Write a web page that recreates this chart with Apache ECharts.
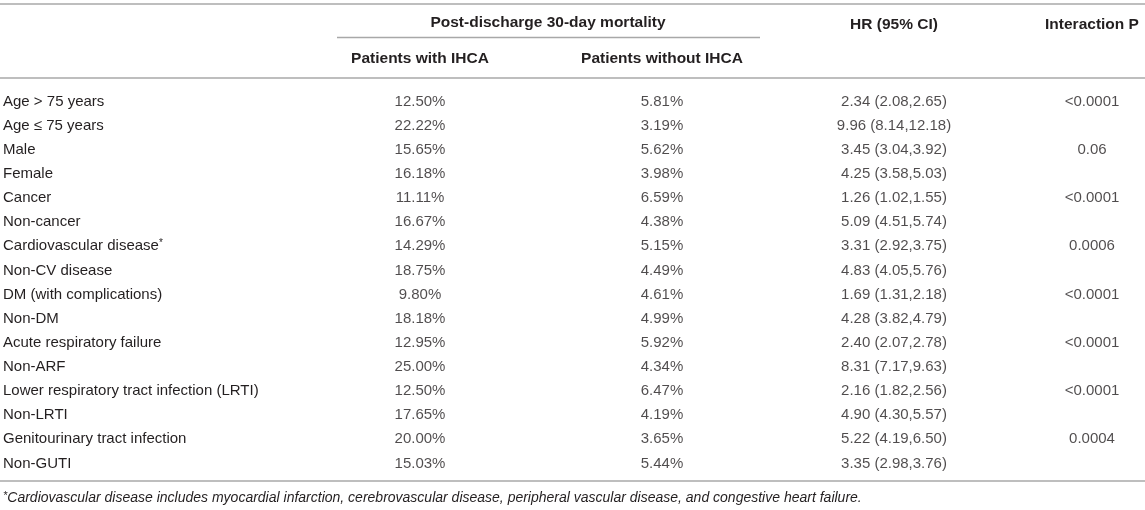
<!DOCTYPE html>
<html><head><meta charset="utf-8">
<script src="https://cdn.jsdelivr.net/npm/echarts@6/dist/echarts.min.js"></script>
<style>html,body{margin:0;padding:0;background:#fff}#c{width:1145px;height:510px}</style>
</head><body><div id="c"></div>
<script>
const rowLabels = ['Age > 75 years','Age ≤ 75 years','Male','Female','Cancer','Non-cancer','Cardiovascular disease*','Non-CV disease','DM (with complications)','Non-DM','Acute respiratory failure','Non-ARF','Lower respiratory tract infection (LRTI)','Non-LRTI','Genitourinary tract infection','Non-GUTI'];
const columnHeaders = ['Patients with IHCA','Patients without IHCA','HR (95% CI)','Interaction P'];
const groupHeader = 'Post-discharge 30-day mortality';
const ihca = [12.50,22.22,15.65,16.18,11.11,16.67,14.29,18.75,9.80,18.18,12.95,25.00,12.50,17.65,20.00,15.03];
const noIhca = [5.81,3.19,5.62,3.98,6.59,4.38,5.15,4.49,4.61,4.99,5.92,4.34,6.47,4.19,3.65,5.44];
const hr = [2.34,9.96,3.45,4.25,1.26,5.09,3.31,4.83,1.69,4.28,2.40,8.31,2.16,4.90,5.22,3.35];
const hrLow = [2.08,8.14,3.04,3.58,1.02,4.51,2.92,4.05,1.31,3.82,2.07,7.17,1.82,4.30,4.19,2.98];
const hrHigh = [2.65,12.18,3.92,5.03,1.55,5.74,3.75,5.76,2.18,4.79,2.78,9.63,2.56,5.57,6.50,3.76];
const pInteraction = ['<0.0001',null,'0.06',null,'<0.0001',null,'0.0006',null,'<0.0001',null,'<0.0001',null,'<0.0001',null,'0.0004',null];
const footnote = 'Cardiovascular disease includes myocardial infarction, cerebrovascular disease, peripheral vascular disease, and congestive heart failure.';

const FONT = 'Liberation Sans, Arial, Helvetica, sans-serif';
const TXT = '#231f20';
const LINE = '#a8a8a8';
const TOP = 89.5, BOTTOM = 34.5;
const FS = 15, FSB = 15.5;
// column layout
const cols = [
  {left: 320, width: 200, margin: 22.5},
  {left: 562, width: 200, margin: 22.5},
  {left: 794, width: 200, margin: 57},
  {left: 1042, width: 100, margin: 57}
];
const texts = [
  ihca.map(v => v.toFixed(2) + '%'),
  noIhca.map(v => v.toFixed(2) + '%'),
  hr.map((v, i) => v.toFixed(2) + ' (' + hrLow[i].toFixed(2) + ',' + hrHigh[i].toFixed(2) + ')'),
  pInteraction.map(v => v || '')
];

const grid = cols.map(c => ({left: c.left, width: c.width, top: TOP, bottom: BOTTOM, containLabel: false}));
const xAxis = cols.map((c, k) => ({
  type: 'category', gridIndex: k, position: 'top', data: [columnHeaders[k]],
  axisLine: {show: false}, axisTick: {show: false}, splitLine: {show: false},
  axisLabel: {show: true, margin: c.margin, fontFamily: FONT, fontSize: FSB, fontWeight: 'bold', color: TXT, interval: 0}
}));
const yAxis = cols.map((c, k) => ({
  type: 'category', gridIndex: k, inverse: true, data: rowLabels,
  axisLine: {show: false}, axisTick: {show: false}, splitLine: {show: false},
  axisLabel: k === 0 ? {
    show: true, align: 'left', margin: 317, interval: 0, fontFamily: FONT, fontSize: FS, color: TXT,
    formatter: v => v.endsWith('*') ? v.slice(0, -1) + '{sup|*}' : v,
    rich: {sup: {fontSize: 10, fontFamily: FONT, color: TXT, padding: [0, 0, 7, 0]}}
  } : {show: false}
}));
const series = cols.map((c, k) => ({
  type: 'scatter', xAxisIndex: k, yAxisIndex: k, symbolSize: 1, silent: true,
  itemStyle: {color: 'transparent'}, emphasis: {disabled: true},
  data: texts[k].map((t, i) => [0, i, t]),
  label: {show: true, position: 'inside', formatter: p => p.value[2], fontFamily: FONT, fontSize: FS, color: TXT}
}));

const chart = echarts.init(document.getElementById('c'), null, {renderer: 'canvas'});
chart.setOption({
  animation: false,
  grid, xAxis, yAxis, series,
  graphic: [
    {type: 'line', shape: {x1: 0, y1: 4, x2: 1145, y2: 4}, style: {stroke: LINE, lineWidth: 1.6}},
    {type: 'line', shape: {x1: 337, y1: 37.5, x2: 760, y2: 37.5}, style: {stroke: LINE, lineWidth: 1.6}},
    {type: 'line', shape: {x1: 0, y1: 78, x2: 1145, y2: 78}, style: {stroke: LINE, lineWidth: 1.6}},
    {type: 'line', shape: {x1: 0, y1: 481, x2: 1145, y2: 481}, style: {stroke: LINE, lineWidth: 1.6}},
    {type: 'text', x: 548, y: 23, style: {text: groupHeader, font: 'bold ' + FSB + 'px ' + FONT, fill: TXT, textAlign: 'center', textVerticalAlign: 'middle'}},
    {type: 'text', x: 3, y: 498, style: {
      text: '{sup|*}{it|' + footnote + '}', textVerticalAlign: 'middle', fill: TXT,
      rich: {sup: {fontSize: 11, fontStyle: 'italic', fontFamily: FONT, fill: TXT, padding: [0, 0, 5, 0]},
             it: {fontSize: 14, fontStyle: 'italic', fontFamily: FONT, fill: TXT}}
    }}
  ]
});
</script></body></html>
